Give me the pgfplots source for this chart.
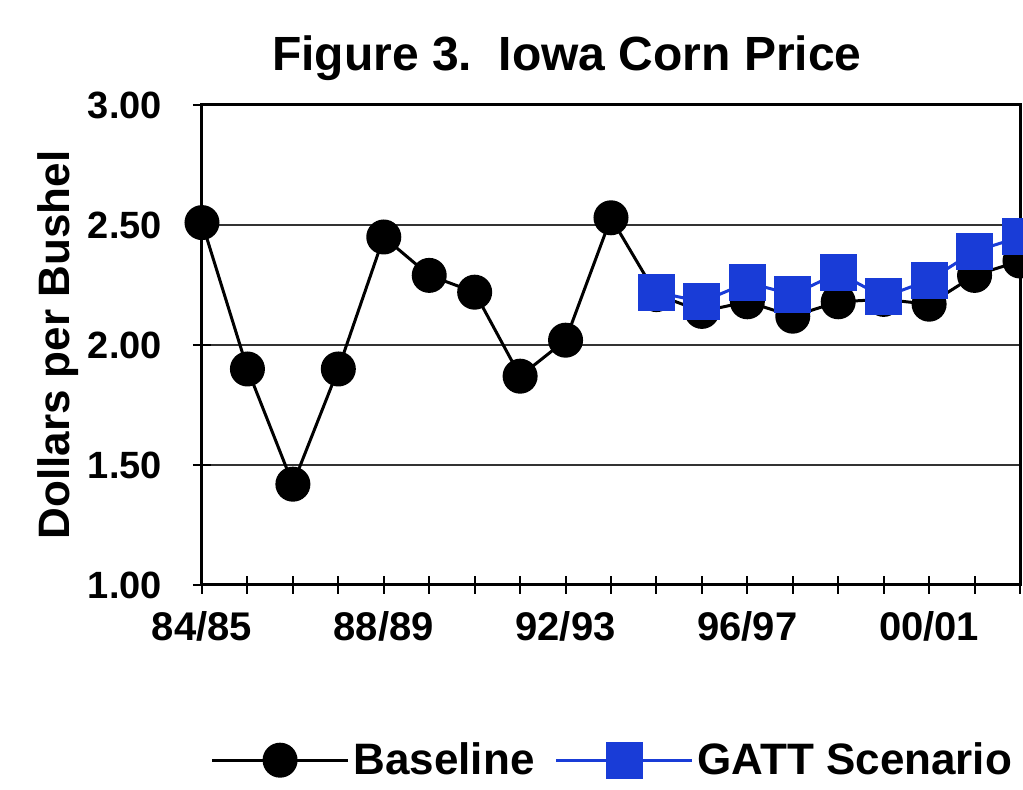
\documentclass[border=0pt]{standalone}
\usepackage{fontspec}
\setmainfont{Liberation Sans}
\usepackage{pgfplots}
\pgfplotsset{compat=1.18}
\definecolor{gattblue}{RGB}{25,60,215}

\begin{document}
\begin{tikzpicture}
\useasboundingbox (0,0) rectangle (511.5pt,395pt);
\begin{axis}[
  at={(101pt,102.5pt)}, anchor=south west,
  scale only axis, width=409pt, height=240pt,
  xmin=0, xmax=18, ymin=1, ymax=3,
  clip=false,
  axis line style={line width=1.5pt},
  xtick={0,...,18},
  xticklabels={84/85,,,,88/89,,,,92/93,,,,96/97,,,,00/01,,},
  ytick={1,1.5,2,2.5,3},
  yticklabels={1.00,1.50,2.00,2.50,3.00},
  xtick pos=lower, ytick pos=left,
  tick align=center, major tick length=9pt,
  tick style={line width=1pt, black},
  ymajorgrids, grid style={line width=1pt, black!80},
  /pgf/number format/assume math mode=true,
  xticklabel style={font=\bfseries\fontsize{20}{22}\selectfont, yshift=-5pt},
  yticklabel style={font=\bfseries\fontsize{19}{21}\selectfont, xshift=-12pt},
  title={Figure 3.\ \ Iowa Corn Price},
  title style={font=\bfseries\fontsize{24}{27}\selectfont,
    at={(axis description cs:0.446,1.073)}, anchor=center},
  ylabel={Dollars per Bushel},
  ylabel style={font=\bfseries\fontsize{22}{24}\selectfont,
    at={(axis description cs:-0.176,0.5)}, anchor=center},
  legend columns=2,
  legend style={at={(axis description cs:0.01,-0.365)}, anchor=west,
    draw=none, fill=none, inner sep=0pt,
    font=\bfseries\fontsize{22}{24}\selectfont,
    /tikz/every even column/.append style={column sep=8pt}},
  legend image code/.code={
    \draw[mark repeat=2,mark phase=2,#1]
      plot coordinates {(0pt,0pt) (34pt,0pt) (68pt,0pt)};},
]
% Baseline projection
\addplot[black, line width=1.5pt, mark=*, mark size=8pt,
  mark options={fill=black}] coordinates {
  (0,2.51) (1,1.90) (2,1.42) (3,1.90) (4,2.45) (5,2.29) (6,2.22)
  (7,1.87) (8,2.02) (9,2.53) (10,2.21) (11,2.14) (12,2.18) (13,2.12)
  (14,2.18) (15,2.19) (16,2.17) (17,2.29) (18,2.35)};
\addlegendentry{Baseline}
% GATT scenario
\addplot[gattblue, line width=1.5pt, mark=square*, mark size=8.5pt,
  mark options={fill=gattblue, draw=gattblue}] coordinates {
  (10,2.22) (11,2.18) (12,2.26) (13,2.21) (14,2.30) (15,2.20)
  (16,2.27) (17,2.39) (18,2.45)};
\addlegendentry{GATT Scenario}
\end{axis}
\end{tikzpicture}
\end{document}
